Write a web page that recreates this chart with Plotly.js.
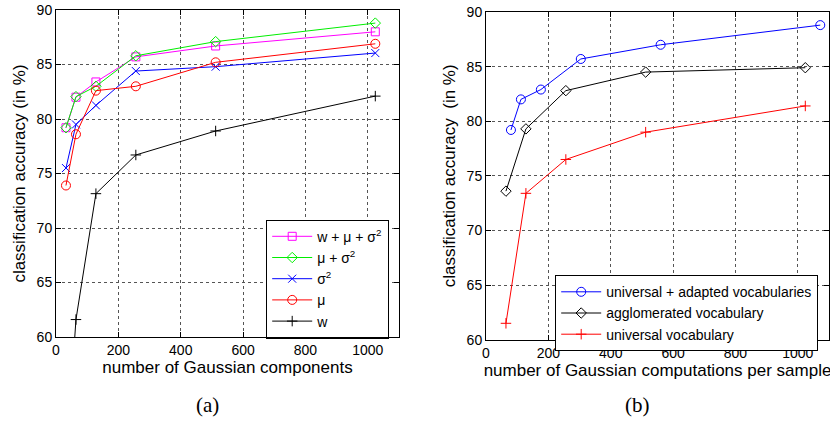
<!DOCTYPE html>
<html>
<head>
<meta charset="utf-8">
<script src="https://cdn.plot.ly/plotly-3.0.1.min.js"></script>
<style>html,body{margin:0;padding:0;background:#fff;}#chart{width:830px;height:421px;}</style>
</head>
<body>
<div id="chart"></div>
<script>
// Panel (a): number of Gaussian components
const xComponents = [32, 64, 128, 256, 512, 1024];
const accWMuSigma = [79.2, 82.0, 83.4, 85.7, 86.7, 88.0];
const accMuSigma  = [79.2, 82.05, 83.0, 85.8, 87.1, 88.8];
const accSigma    = [75.5, 79.5, 81.25, 84.4, 84.8, 86.05];
const accMu       = [73.9, 78.6, 82.6, 83.0, 85.2, 86.9];
const accW        = [48.0, 61.6, 73.15, 76.7, 78.9, 82.1];

// Panel (b): number of Gaussian computations per sample
const xUnivAdapted = [80, 112, 176, 304, 560, 1072];
const accUnivAdapted = [79.2, 82.0, 82.9, 85.7, 87.0, 88.8];
const xAgglom = [64, 128, 256, 512, 1024];
const accAgglom = [73.6, 79.3, 82.8, 84.5, 84.9];
const xUniv = [64, 128, 256, 512, 1024];
const accUniv = [61.5, 73.4, 76.5, 79.0, 81.4];

const xTicks = [0, 200, 400, 600, 800, 1000];
const yTicks = [60, 65, 70, 75, 80, 85, 90];

function tr(x, y, name, color, symbol, size, xa, ya, leg) {
  return {
    x: x, y: y, name: name, type: 'scatter', mode: 'lines+markers',
    xaxis: xa, yaxis: ya, legend: leg,
    line: {color: color, width: 1},
    marker: {symbol: symbol, size: size, color: color, line: {color: color, width: 1}}
  };
}

const data = [
  tr(xComponents, accWMuSigma, 'w + μ + σ<sup>2</sup>', '#ff00ff', 'square-open', 8, 'x', 'y', 'legend'),
  tr(xComponents, accMuSigma, 'μ + σ<sup>2</sup>', '#00ee00', 'diamond-open', 8, 'x', 'y', 'legend'),
  tr(xComponents, accSigma, 'σ<sup>2</sup>', '#0000ff', 'x-thin-open', 8, 'x', 'y', 'legend'),
  tr(xComponents, accMu, 'μ', '#ff0000', 'circle-open', 9, 'x', 'y', 'legend'),
  tr(xComponents, accW, 'w', '#000000', 'cross-thin-open', 7.5, 'x', 'y', 'legend'),
  tr(xUnivAdapted, accUnivAdapted, 'universal + adapted vocabularies', '#0000ff', 'circle-open', 9, 'x2', 'y2', 'legend2'),
  tr(xAgglom, accAgglom, 'agglomerated vocabulary', '#000000', 'diamond-open', 8, 'x2', 'y2', 'legend2'),
  tr(xUniv, accUniv, 'universal vocabulary', '#ff0000', 'cross-thin-open', 7.5, 'x2', 'y2', 'legend2')
];

const FONT = 'Liberation Sans, Arial, Helvetica, sans-serif';
function xax(domain, title, anchor) {
  return {
    domain: domain, anchor: anchor, range: [0, 1100], tickvals: xTicks,
    showline: true, linecolor: '#000', linewidth: 1, mirror: 'ticks',
    ticks: 'inside', ticklen: 5, tickcolor: '#000',
    showgrid: true, gridcolor: '#555', griddash: 'dot', gridwidth: 1,
    zeroline: false, tickfont: {family: FONT, size: 14, color: '#000'},
    title: {text: title, font: {family: FONT, size: 17, color: '#000'}, standoff: 4}
  };
}
function yax(domain, title, anchor) {
  return {
    domain: domain, anchor: anchor, range: [60, 90], tickvals: yTicks,
    showline: true, linecolor: '#000', linewidth: 1, mirror: 'ticks',
    ticks: 'inside', ticklen: 5, tickcolor: '#000',
    showgrid: true, gridcolor: '#555', griddash: 'dot', gridwidth: 1,
    zeroline: false, tickfont: {family: FONT, size: 14, color: '#000'},
    title: {text: title, font: {family: FONT, size: 17, color: '#000'}, standoff: 6}
  };
}

const layout = {
  width: 830, height: 421,
  margin: {l: 0, r: 0, t: 0, b: 0},
  paper_bgcolor: '#fff', plot_bgcolor: '#fff',
  font: {family: FONT, color: '#000'},
  xaxis: xax([56/830, 399/830], 'number of Gaussian components', 'y'),
  yaxis: yax([(421-337)/421, (421-10)/421], 'classification accuracy (in %)', 'x'),
  xaxis2: xax([486/830, 829/830], 'number of Gaussian computations per sample', 'y2'),
  yaxis2: yax([(421-339.7)/421, (421-12)/421], 'classification accuracy \u00a0(in %)', 'x2'),
  legend: {
    x: 266/830, y: (421-219.5)/421, xanchor: 'left', yanchor: 'top',
    bgcolor: '#fff', bordercolor: '#000', borderwidth: 1.2,
    font: {family: FONT, size: 14, color: '#000'}, itemwidth: 40
  },
  legend2: {
    x: 555/830, y: (421-275)/421, xanchor: 'left', yanchor: 'top',
    bgcolor: '#fff', bordercolor: '#000', borderwidth: 1.2,
    font: {family: FONT, size: 14, color: '#000'}, itemwidth: 40
  },
  annotations: [
    {text: '(a)', x: 207/830, y: (421-405)/421, xref: 'paper', yref: 'paper', showarrow: false,
     xanchor: 'center', yanchor: 'middle', font: {family: 'Liberation Serif, DejaVu Serif, serif', size: 21, color: '#000'}},
    {text: '(b)', x: 637/830, y: (421-405)/421, xref: 'paper', yref: 'paper', showarrow: false,
     xanchor: 'center', yanchor: 'middle', font: {family: 'Liberation Serif, DejaVu Serif, serif', size: 21, color: '#000'}}
  ],
  showlegend: true
};

Plotly.newPlot('chart', data, layout, {displayModeBar: false, staticPlot: true});
</script>
</body>
</html>
